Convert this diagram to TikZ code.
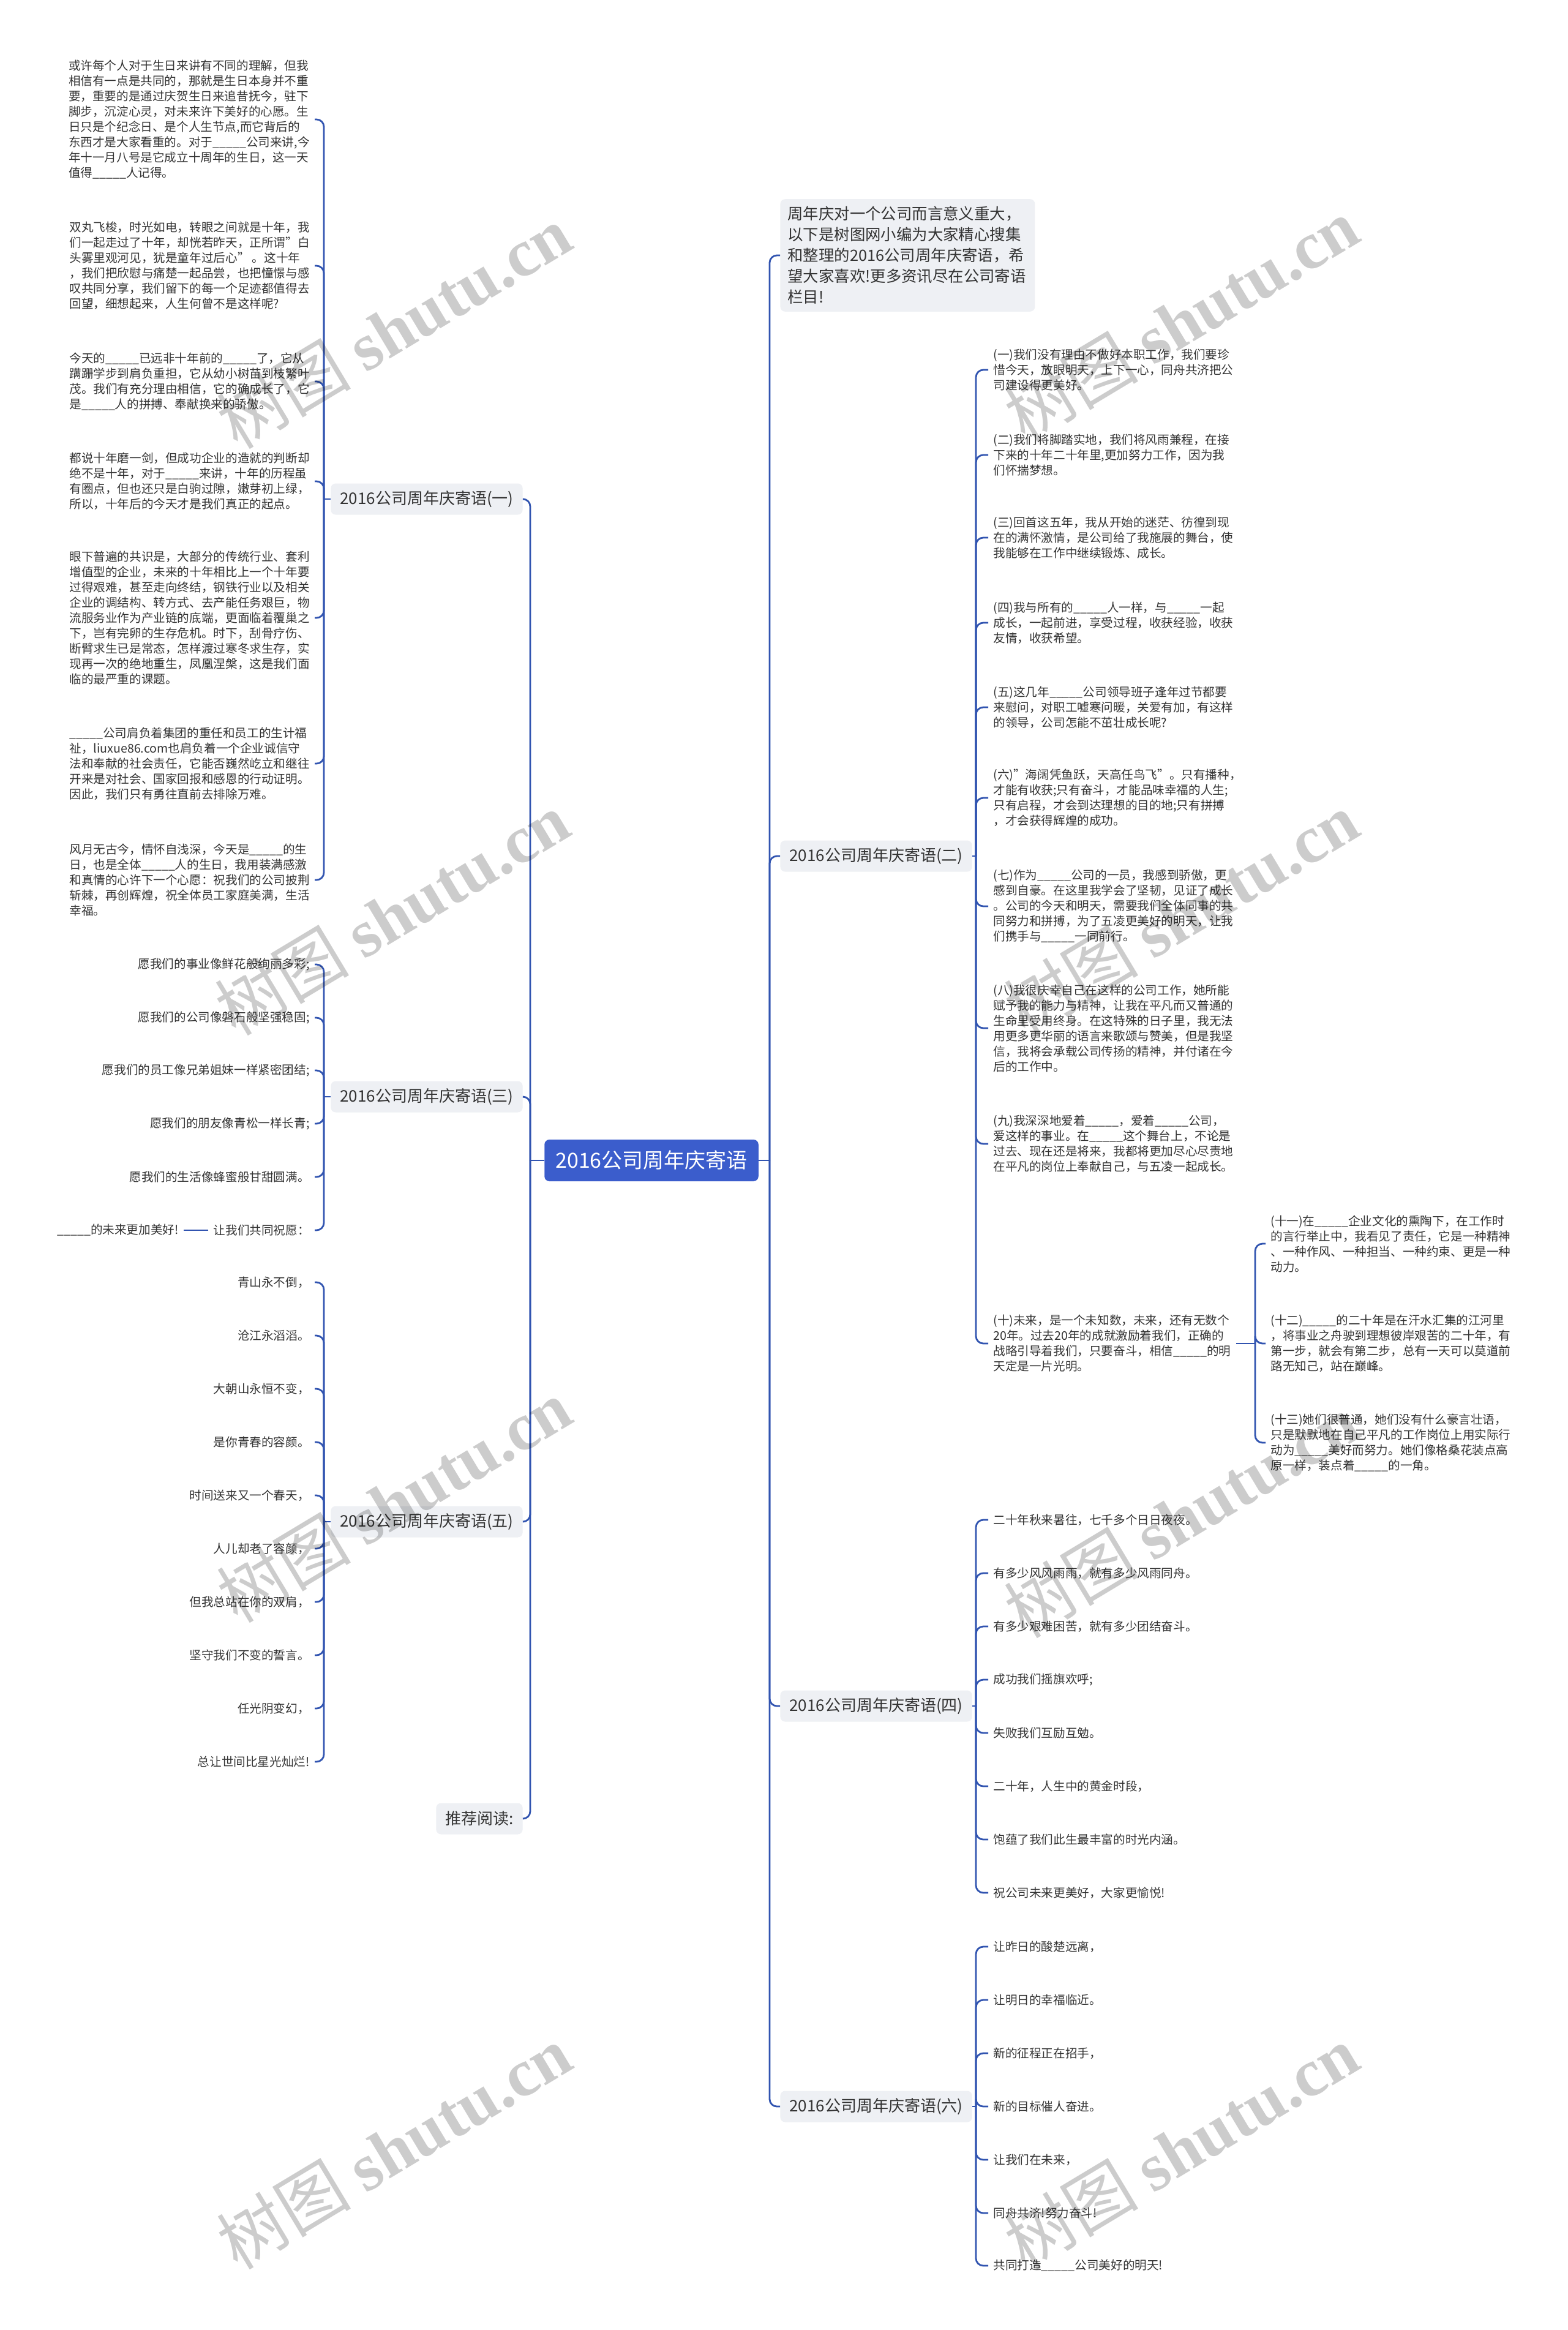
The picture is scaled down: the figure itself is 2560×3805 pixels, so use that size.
\documentclass[tikz,border=0pt]{standalone}
\usepackage{fontspec}
\setmainfont{Noto Sans CJK SC}
\newfontfamily\wmlatin{Liberation Serif}
\usetikzlibrary{calc}
\definecolor{mmLink}{RGB}{49,84,176}
\definecolor{mmRoot}{RGB}{59,93,204}
\definecolor{mmTopic}{RGB}{238,240,244}
\definecolor{mmText}{RGB}{51,51,51}
\newcommand{\blk}{\_\_\_\_\_}

\begin{document}
\begin{tikzpicture}[
  x=0.5bp, y=-0.5bp,
  font=\fontsize{9.8bp}{12.5bp}\selectfont,
  lf/.style={text=mmText, align=left, inner xsep=4bp, inner ysep=1bp},
  lfl/.style={lf, anchor=east},
  lfr/.style={lf, anchor=west},
  topic/.style={fill=mmTopic, rounded corners=4bp, text=mmText, inner xsep=7.5bp, minimum height=25.5bp, font=\fontsize{13bp}{16bp}\selectfont},
  intro/.style={topic, anchor=west, align=left, text width=196bp, inner xsep=6bp, inner ysep=6bp, font=\fontsize{12.7bp}{17bp}\selectfont},
  root/.style={fill=mmRoot, rounded corners=4bp, text=white, inner xsep=9bp, minimum height=34bp, font=\fontsize{17bp}{20bp}\selectfont},
  link/.style={draw=mmLink, line width=1.4bp, rounded corners=6bp},
  wm/.style={text=black, text opacity=0.2, rotate=31, font=\fontsize{55bp}{60bp}\selectfont}
]
\fill[white] (0,0) rectangle (2560,3805);
\useasboundingbox (0,0) rectangle (2560,3805);

\node[root] (root) at (1064,1895) {2016公司周年庆寄语};
\coordinate (rtk) at (1257,1895);
\coordinate (ltk) at (866,1895);

\node[intro] (intro) at (1274,417) {周年庆对一个公司而言意义重大，\\以下是树图网小编为大家精心搜集\\和整理的2016公司周年庆寄语，希\\望大家喜欢!更多资讯尽在公司寄语\\栏目!};
\node[topic, anchor=west] (t2) at (1274,1398) {2016公司周年庆寄语(二)};
\node[topic, anchor=west] (t4) at (1274,2786) {2016公司周年庆寄语(四)};
\node[topic, anchor=west] (t6) at (1274,3440) {2016公司周年庆寄语(六)};
\node[topic, anchor=east] (t1) at (854,815) {2016公司周年庆寄语(一)};
\node[topic, anchor=east] (t3) at (854,1791) {2016公司周年庆寄语(三)};
\node[topic, anchor=east] (t5) at (854,2485) {2016公司周年庆寄语(五)};
\node[topic, anchor=east] (tr) at (854,2970) {推荐阅读:};

\coordinate (s1) at (529,815);
\coordinate (s3) at (529,1791);
\coordinate (s5) at (529,2485);
\coordinate (s2) at (1594,1398);
\coordinate (s4) at (1594,2786);
\coordinate (s6) at (1594,3440);
\coordinate (s10) at (2050,2194);

\node[lfl] (p1) at (514,195) {或许每个人对于生日来讲有不同的理解，但我\\相信有一点是共同的，那就是生日本身并不重\\要，重要的是通过庆贺生日来追昔抚今，驻下\\脚步，沉淀心灵，对未来许下美好的心愿。生\\日只是个纪念日、是个人生节点,而它背后的\\东西才是大家看重的。对于\blk 公司来讲,今\\年十一月八号是它成立十周年的生日，这一天\\值得\blk 人记得。};
\node[lfl] (p2) at (514,434) {双丸飞梭，时光如电，转眼之间就是十年，我\\们一起走过了十年，却恍若昨天，正所谓"白\\头雾里观河见，犹是童年过后心" 。这十年\\，我们把欣慰与痛楚一起品尝，也把憧憬与感\\叹共同分享，我们留下的每一个足迹都值得去\\回望，细想起来，人生何曾不是这样呢?};
\node[lfl] (p3) at (514,623) {今天的\blk 已远非十年前的\blk 了，它从\\蹒跚学步到肩负重担，它从幼小树苗到枝繁叶\\茂。我们有充分理由相信，它的确成长了，它\\是\blk 人的拼搏、奉献换来的骄傲。};
\node[lfl] (p4) at (514,786) {都说十年磨一剑，但成功企业的造就的判断却\\绝不是十年，对于\blk 来讲，十年的历程虽\\有圈点，但也还只是白驹过隙，嫩芽初上绿，\\所以，十年后的今天才是我们真正的起点。};
\node[lfl] (p5) at (514,1009) {眼下普遍的共识是，大部分的传统行业、套利\\增值型的企业，未来的十年相比上一个十年要\\过得艰难，甚至走向终结，钢铁行业以及相关\\企业的调结构、转方式、去产能任务艰巨，物\\流服务业作为产业链的底端，更面临着覆巢之\\下，岂有完卵的生存危机。时下，刮骨疗伤、\\断臂求生已是常态，怎样渡过寒冬求生存，实\\现再一次的绝地重生，凤凰涅槃，这是我们面\\临的最严重的课题。};
\node[lfl] (p6) at (514,1247) {\blk 公司肩负着集团的重任和员工的生计福\\祉，liuxue86.com也肩负着一个企业诚信守\\法和奉献的社会责任，它能否巍然屹立和继往\\开来是对社会、国家回报和感恩的行动证明。\\因此，我们只有勇往直前去排除万难。};
\node[lfl] (p7) at (514,1437) {风月无古今，情怀自浅深，今天是\blk 的生\\日，也是全体\blk 人的生日，我用装满感激\\和真情的心许下一个心愿：祝我们的公司披荆\\斩棘，再创辉煌，祝全体员工家庭美满，生活\\幸福。};

\node[lfl] (q1) at (514,1575) {愿我们的事业像鲜花般绚丽多彩;};
\node[lfl] (q2) at (514,1662) {愿我们的公司像磐石般坚强稳固;};
\node[lfl] (q3) at (514,1748) {愿我们的员工像兄弟姐妹一样紧密团结;};
\node[lfl] (q4) at (514,1835) {愿我们的朋友像青松一样长青;};
\node[lfl] (q5) at (514,1922) {愿我们的生活像蜂蜜般甘甜圆满。};
\node[lfl] (q6) at (514,2009) {让我们共同祝愿：};
\node[lfl] (q7) at (300,2009) {\blk 的未来更加美好!};

\node[lfl] (r1) at (514,2094) {青山永不倒，};
\node[lfl] (r2) at (514,2181) {沧江永滔滔。};
\node[lfl] (r3) at (514,2268) {大朝山永恒不变，};
\node[lfl] (r4) at (514,2355) {是你青春的容颜。};
\node[lfl] (r5) at (514,2442) {时间送来又一个春天，};
\node[lfl] (r6) at (514,2529) {人儿却老了容颜，};
\node[lfl] (r7) at (514,2616) {但我总站在你的双肩，};
\node[lfl] (r8) at (514,2703) {坚守我们不变的誓言。};
\node[lfl] (r9) at (514,2790) {任光阴变幻，};
\node[lfl] (r10) at (514,2877) {总让世间比星光灿烂!};

\node[lfr] (u1) at (1614,604) {(一)我们没有理由不做好本职工作，我们要珍\\惜今天，放眼明天，上下一心，同舟共济把公\\司建设得更美好。};
\node[lfr] (u2) at (1614,743) {(二)我们将脚踏实地，我们将风雨兼程，在接\\下来的十年二十年里,更加努力工作，因为我\\们怀揣梦想。};
\node[lfr] (u3) at (1614,878) {(三)回首这五年，我从开始的迷茫、彷徨到现\\在的满怀激情，是公司给了我施展的舞台，使\\我能够在工作中继续锻炼、成长。};
\node[lfr] (u4) at (1614,1017) {(四)我与所有的\blk 人一样，与\blk 一起\\成长，一起前进，享受过程，收获经验，收获\\友情，收获希望。};
\node[lfr] (u5) at (1614,1155) {(五)这几年\blk 公司领导班子逢年过节都要\\来慰问，对职工嘘寒问暖，关爱有加，有这样\\的领导，公司怎能不茁壮成长呢?};
\node[lfr] (u6) at (1614,1303) {(六)"海阔凭鱼跃，天高任鸟飞"。只有播种，\\才能有收获;只有奋斗，才能品味幸福的人生;\\只有启程，才会到达理想的目的地;只有拼搏\\，才会获得辉煌的成功。};
\node[lfr] (u7) at (1614,1480) {(七)作为\blk 公司的一员，我感到骄傲，更\\感到自豪。在这里我学会了坚韧，见证了成长\\。公司的今天和明天，需要我们全体同事的共\\同努力和拼搏，为了五凌更美好的明天，让我\\们携手与\blk 一同前行。};
\node[lfr] (u8) at (1614,1679) {(八)我很庆幸自己在这样的公司工作，她所能\\赋予我的能力与精神，让我在平凡而又普通的\\生命里受用终身。在这特殊的日子里，我无法\\用更多更华丽的语言来歌颂与赞美，但是我坚\\信，我将会承载公司传扬的精神，并付诸在今\\后的工作中。};
\node[lfr] (u9) at (1614,1868) {(九)我深深地爱着\blk ，爱着\blk 公司，\\爱这样的事业。在\blk 这个舞台上，不论是\\过去、现在还是将来，我都将更加尽心尽责地\\在平凡的岗位上奉献自己，与五凌一起成长。};
\node[lfr] (u10) at (1614,2194) {(十)未来，是一个未知数，未来，还有无数个\\20年。过去20年的成就激励着我们，正确的\\战略引导着我们，只要奋斗，相信\blk 的明\\天定是一片光明。};

\node[lfr] (v1) at (2067,2031) {(十一)在\blk 企业文化的熏陶下，在工作时\\的言行举止中，我看见了责任，它是一种精神\\、一种作风、一种担当、一种约束、更是一种\\动力。};
\node[lfr] (v2) at (2067,2194) {(十二)\blk 的二十年是在汗水汇集的江河里\\，将事业之舟驶到理想彼岸艰苦的二十年，有\\第一步，就会有第二步，总有一天可以莫道前\\路无知己，站在巅峰。};
\node[lfr] (v3) at (2067,2356) {(十三)她们很普通，她们没有什么豪言壮语，\\只是默默地在自己平凡的工作岗位上用实际行\\动为\blk 美好而努力。她们像格桑花装点高\\原一样，装点着\blk 的一角。};

\node[lfr] (w1) at (1614,2482) {二十年秋来暑往，七千多个日日夜夜。};
\node[lfr] (w2) at (1614,2569) {有多少风风雨雨，就有多少风雨同舟。};
\node[lfr] (w3) at (1614,2656) {有多少艰难困苦，就有多少团结奋斗。};
\node[lfr] (w4) at (1614,2743) {成功我们摇旗欢呼;};
\node[lfr] (w5) at (1614,2830) {失败我们互励互勉。};
\node[lfr] (w6) at (1614,2917) {二十年，人生中的黄金时段，};
\node[lfr] (w7) at (1614,3004) {饱蕴了我们此生最丰富的时光内涵。};
\node[lfr] (w8) at (1614,3091) {祝公司未来更美好，大家更愉悦!};

\node[lfr] (z1) at (1614,3179) {让昨日的酸楚远离，};
\node[lfr] (z2) at (1614,3266) {让明日的幸福临近。};
\node[lfr] (z3) at (1614,3353) {新的征程正在招手，};
\node[lfr] (z4) at (1614,3440) {新的目标催人奋进。};
\node[lfr] (z5) at (1614,3527) {让我们在未来，};
\node[lfr] (z6) at (1614,3614) {同舟共济!努力奋斗!};
\node[lfr] (z7) at (1614,3700) {共同打造\blk 公司美好的明天!};

\draw[link] (root.east) -- (rtk);
\draw[link] (root.west) -- (ltk);
\draw[link] (rtk) |- (intro.west);
\draw[link] (rtk) |- (t2.west);
\draw[link] (rtk) |- (t4.west);
\draw[link] (rtk) |- (t6.west);
\draw[link] (ltk) |- (t1.east);
\draw[link] (ltk) |- (t3.east);
\draw[link] (ltk) |- (t5.east);
\draw[link] (ltk) |- (tr.east);

\draw[link] (t1.west) -- (s1);
\draw[link] (s1) |- (p1.east);
\draw[link] (s1) |- (p2.east);
\draw[link] (s1) |- (p3.east);
\draw[link] (s1) |- (p4.east);
\draw[link] (s1) |- (p5.east);
\draw[link] (s1) |- (p6.east);
\draw[link] (s1) |- (p7.east);

\draw[link] (t3.west) -- (s3);
\draw[link] (s3) |- (q1.east);
\draw[link] (s3) |- (q2.east);
\draw[link] (s3) |- (q3.east);
\draw[link] (s3) |- (q4.east);
\draw[link] (s3) |- (q5.east);
\draw[link] (s3) |- (q6.east);
\draw[link] (q6.west) -- (q7.east);

\draw[link] (t5.west) -- (s5);
\draw[link] (s5) |- (r1.east);
\draw[link] (s5) |- (r2.east);
\draw[link] (s5) |- (r3.east);
\draw[link] (s5) |- (r4.east);
\draw[link] (s5) |- (r5.east);
\draw[link] (s5) |- (r6.east);
\draw[link] (s5) |- (r7.east);
\draw[link] (s5) |- (r8.east);
\draw[link] (s5) |- (r9.east);
\draw[link] (s5) |- (r10.east);

\draw[link] (t2.east) -- (s2);
\draw[link] (s2) |- (u1.west);
\draw[link] (s2) |- (u2.west);
\draw[link] (s2) |- (u3.west);
\draw[link] (s2) |- (u4.west);
\draw[link] (s2) |- (u5.west);
\draw[link] (s2) |- (u6.west);
\draw[link] (s2) |- (u7.west);
\draw[link] (s2) |- (u8.west);
\draw[link] (s2) |- (u9.west);
\draw[link] (s2) |- (u10.west);
\draw[link] (u10.east) -- (s10);
\draw[link] (s10) |- (v1.west);
\draw[link] (s10) |- (v2.west);
\draw[link] (s10) |- (v3.west);

\draw[link] (t4.east) -- (s4);
\draw[link] (s4) |- (w1.west);
\draw[link] (s4) |- (w2.west);
\draw[link] (s4) |- (w3.west);
\draw[link] (s4) |- (w4.west);
\draw[link] (s4) |- (w5.west);
\draw[link] (s4) |- (w6.west);
\draw[link] (s4) |- (w7.west);
\draw[link] (s4) |- (w8.west);

\draw[link] (t6.east) -- (s6);
\draw[link] (s6) |- (z1.west);
\draw[link] (s6) |- (z2.west);
\draw[link] (s6) |- (z3.west);
\draw[link] (s6) |- (z4.west);
\draw[link] (s6) |- (z5.west);
\draw[link] (s6) |- (z6.west);
\draw[link] (s6) |- (z7.west);

\node[wm] (wm1) at (643,534) {树图 {\wmlatin\bfseries shutu.cn}};
\node[wm] (wm2) at (640,1492) {树图 {\wmlatin\bfseries shutu.cn}};
\node[wm] (wm3) at (643,2451) {树图 {\wmlatin\bfseries shutu.cn}};
\node[wm] (wm4) at (643,3506) {树图 {\wmlatin\bfseries shutu.cn}};
\node[wm] (wm5) at (1929,522) {树图 {\wmlatin\bfseries shutu.cn}};
\node[wm] (wm6) at (1929,1492) {树图 {\wmlatin\bfseries shutu.cn}};
\node[wm] (wm7) at (1929,2475) {树图 {\wmlatin\bfseries shutu.cn}};
\node[wm] (wm8) at (1929,3506) {树图 {\wmlatin\bfseries shutu.cn}};
\end{tikzpicture}
\end{document}
